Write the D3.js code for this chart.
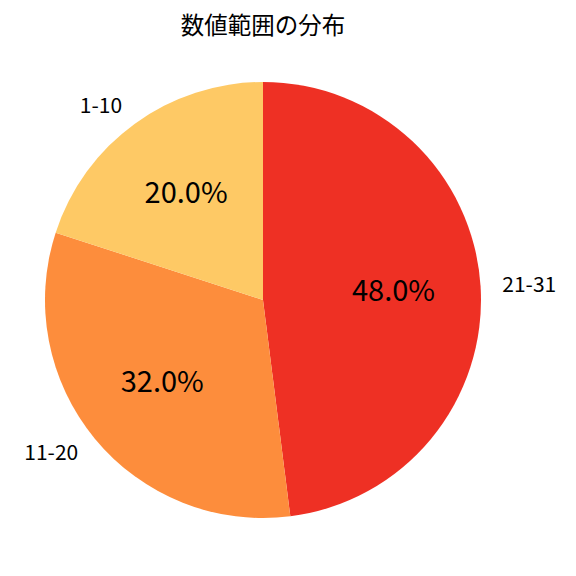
<!DOCTYPE html>
<html>
<head>
<meta charset="utf-8">
<script src="https://cdn.jsdelivr.net/npm/d3@7"></script>
<style>
  body { margin: 0; background: #fff; }
  text { font-family: "Noto Sans CJK JP", "Noto Sans", sans-serif; }
</style>
</head>
<body>
<div id="chart"></div>
<script>
// Pie chart: 数値範囲の分布
const categories = ["21-31", "11-20", "1-10"];
const values = [48, 32, 20];
const colors = ["#ee3024", "#fd8d3c", "#fec965"];

const width = 576, height = 576;
const cx = 263, cy = 300, radius = 218;

const svg = d3.select("#chart")
  .append("svg")
    .attr("width", width)
    .attr("height", height);

svg.append("text")
  .attr("x", cx)
  .attr("y", 34)
  .attr("text-anchor", "middle")
  .style("font-size", "23.5px")
  .text("数値範囲の分布");

const g = svg.append("g")
  .attr("transform", `translate(${cx},${cy})`);

const data = categories.map((c, i) => ({ cat: c, value: values[i] }));
const total = d3.sum(values);

// clockwise from 12 o'clock, keep input order
const pie = d3.pie()
  .sort(null)
  .value(d => d.value);

const arcs = pie(data);

const arc = d3.arc().innerRadius(0).outerRadius(radius);
const labelArc = d3.arc().innerRadius(radius * 1.1).outerRadius(radius * 1.1);
const pctArc = d3.arc().innerRadius(radius * 0.6).outerRadius(radius * 0.6);

const color = d3.scaleOrdinal().domain(categories).range(colors);

g.selectAll("path")
  .data(arcs)
  .enter()
  .append("path")
    .attr("d", arc)
    .attr("fill", d => color(d.data.cat));

// category labels outside
g.selectAll("text.label")
  .data(arcs)
  .enter()
  .append("text")
    .attr("class", "label")
    .attr("x", d => labelArc.centroid(d)[0])
    .attr("y", d => labelArc.centroid(d)[1] - 2)
    .attr("text-anchor", d => labelArc.centroid(d)[0] >= 0 ? "start" : "end")
    .attr("dominant-baseline", "central")
    .style("font-size", "21px")
    .text(d => d.data.cat);

// percentages inside
g.selectAll("text.pct")
  .data(arcs)
  .enter()
  .append("text")
    .attr("class", "pct")
    .attr("x", d => pctArc.centroid(d)[0])
    .attr("y", d => pctArc.centroid(d)[1] - 4)
    .attr("text-anchor", "middle")
    .attr("dominant-baseline", "central")
    .style("font-size", "29px")
    .text(d => (d.data.value / total * 100).toFixed(1) + "%");
</script>
</body>
</html>
